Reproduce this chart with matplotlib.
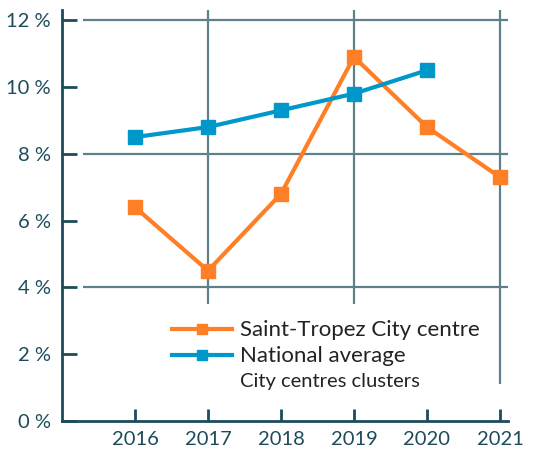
import matplotlib
matplotlib.use('Agg')
import matplotlib.pyplot as plt

years = [2016, 2017, 2018, 2019, 2020, 2021]
saint_tropez = [6.4, 4.5, 6.8, 10.9, 8.8, 7.3]
national_years = [2016, 2017, 2018, 2019, 2020]
national = [8.5, 8.8, 9.3, 9.8, 10.5]
y_ticks = [0, 2, 4, 6, 8, 10, 12]

axis_col = '#1d4b5b'
grid_col = '#5e808a'
orange = '#ff7f27'
blue = '#0098cb'

plt.rcParams['font.family'] = ['Lato', 'DejaVu Sans']

fig = plt.figure(figsize=(5.33, 4.51), dpi=100)
ax = fig.add_axes([0.1163, 0.0665, 0.8368, 0.911])
ax.set_xlim(2015.0, 2021.11)
ax.set_ylim(0, 12.3)

# grid lines (partial, as in the original)
ax.hlines([4, 8, 12], 2015.29, 2021.13, color=grid_col, lw=1.6, zorder=1)
ax.vlines([2017, 2019], 3.5, 12.3, color=grid_col, lw=1.6, zorder=1)
ax.vlines([2021], 1.1, 12.3, color=grid_col, lw=1.6, zorder=1)

ax.plot(years, saint_tropez, color=orange, lw=3, marker='s', ms=10,
        label='Saint-Tropez City centre', zorder=3)
ax.plot(national_years, national, color=blue, lw=3, marker='s', ms=10,
        label='National average', zorder=3)

ax.set_xticks(years)
ax.set_yticks(y_ticks)
ax.set_yticklabels([f'{v} %' for v in y_ticks])
ax.tick_params(axis='y', direction='in', length=11, width=2, color=axis_col,
               labelcolor=axis_col, labelsize=14.5, pad=8)
ax.tick_params(axis='x', direction='in', length=9, width=2, color=axis_col,
               labelcolor=axis_col, labelsize=14.5, pad=7)

for s in ['top', 'right']:
    ax.spines[s].set_visible(False)
for s in ['left', 'bottom']:
    ax.spines[s].set_color(axis_col)
    ax.spines[s].set_linewidth(2)

leg = ax.legend(loc='upper left', bbox_to_anchor=(0.247, 0.245), frameon=False,
                fontsize=16, handlelength=2.7, handletextpad=0.36,
                labelspacing=0.27, borderpad=0, borderaxespad=0)
for h in leg.legend_handles:
    h.set_markersize(7)
for t in leg.get_texts():
    t.set_color('#222222')
ax.text(0.399, 0.095, 'City centres clusters', transform=ax.transAxes,
        fontsize=14.5, color='#222222', va='center')

fig.savefig('out.png', dpi=100)
